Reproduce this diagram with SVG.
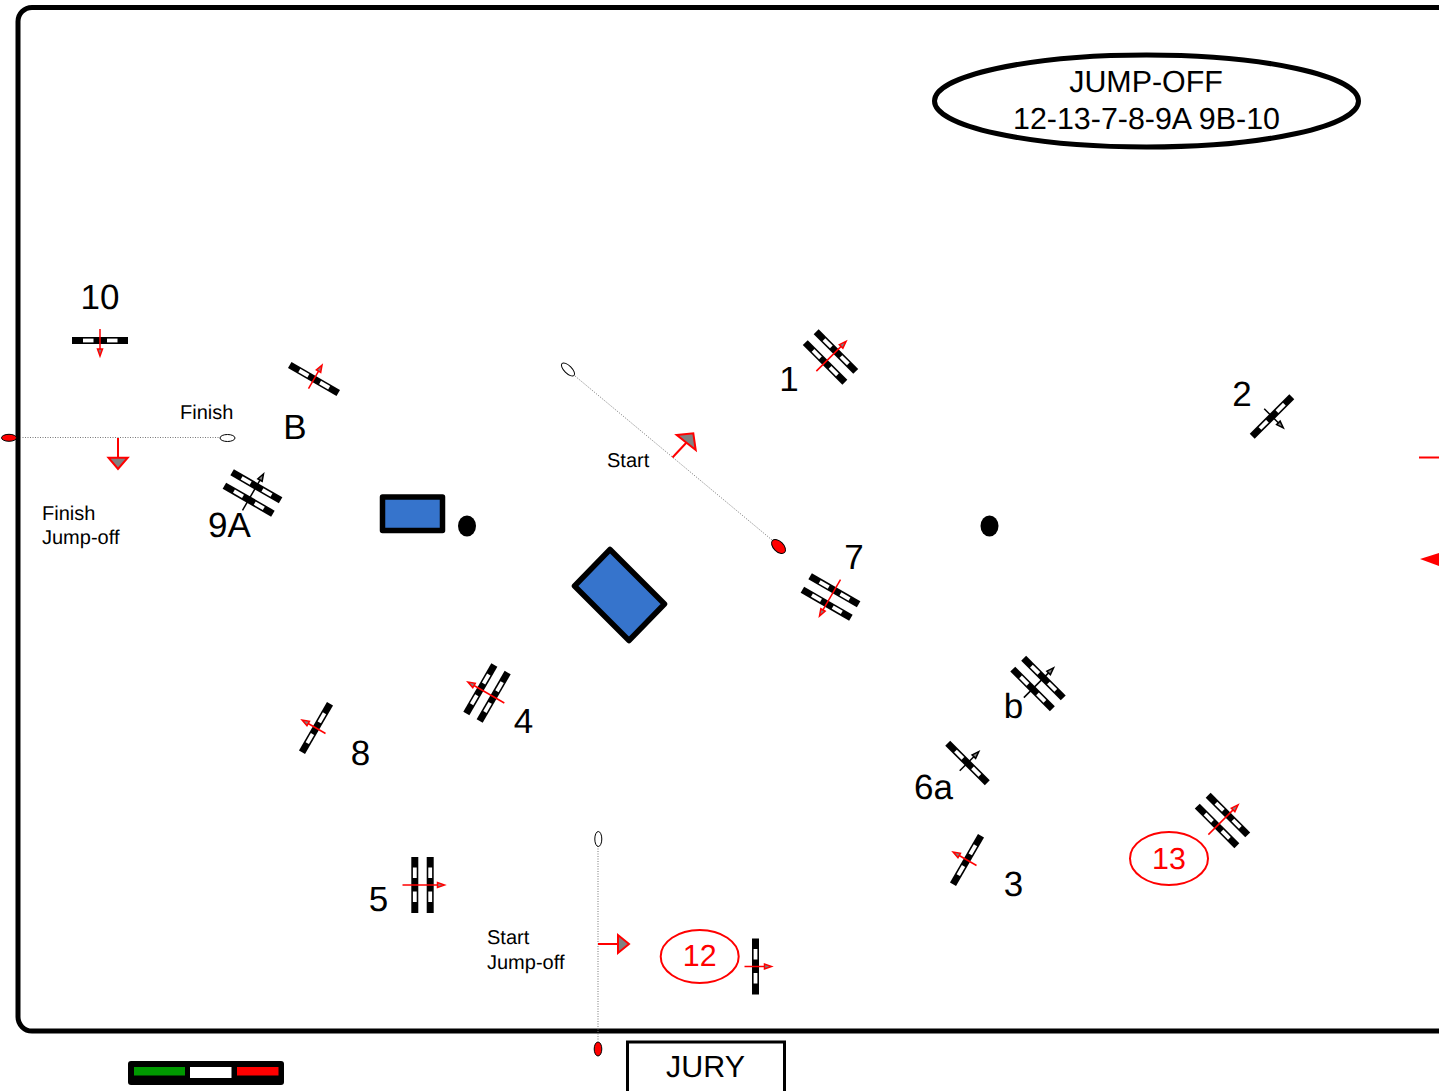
<svg xmlns="http://www.w3.org/2000/svg" width="1439" height="1091" viewBox="0 0 1439 1091">
<style>
text{font-family:"Liberation Sans",Arial,sans-serif;fill:#000;text-rendering:geometricPrecision}
.n{font-size:35px;text-anchor:middle}
.s{font-size:20px}
.o{font-size:30.400px;text-anchor:middle}
.rt{fill:#f00}
.r{color:#f00}
.k{color:#000}
.gate{fill:#fff;stroke:#000;stroke-width:1}
.gate.red{fill:#f00}
.dot{stroke:#777;stroke-width:1;stroke-dasharray:1 1.500;fill:none}
.ga{stroke:#f00;stroke-width:2;fill:none}
.gh{stroke:#f00;stroke-width:2;fill:#808080;stroke-linejoin:miter}
.blue{fill:#3674cc;stroke:#000;stroke-width:5.500;stroke-linejoin:round}
.tag{fill:#fff;stroke:#f00;stroke-width:2}
</style>
<defs>
<g id="bar"><rect x="-28" y="-3.500" width="56" height="7" fill="#000"/><rect x="-17" y="-1.900" width="10.500" height="3.800" fill="#fff"/><rect x="7" y="-1.900" width="10.500" height="3.800" fill="#fff"/></g>
<g id="a1"><path d="M0-11V10" stroke="currentColor" stroke-width="1.500" fill="none"/><path d="M-2.500 9H2.500L0 16Z" stroke="currentColor" stroke-width="1.500" fill="#808080"/></g>
<g id="a2"><path d="M0-20V15" stroke="currentColor" stroke-width="1.500" fill="none"/><path d="M-2.500 15H2.500L0 22Z" stroke="currentColor" stroke-width="1.500" fill="#808080"/></g>
<g id="dbl"><use href="#bar" y="-7.700"/><use href="#bar" y="7.700"/></g>
</defs>
<g id="frame"><rect x="18" y="7.500" width="1500" height="1023.500" rx="14" fill="#fff" stroke="#000" stroke-width="5"/></g>
<g id="connectors">
<path class="dot" d="M575 376L772 540"/>
<path class="dot" d="M20 437.500H220"/>
<path class="dot" d="M598 846V1041"/>
<path class="ga" d="M672.500 457.500L687 442"/><path class="gh" d="M676.700 435L693.300 433.300L695.700 450Z"/>
<path class="ga" d="M118 438V458"/><path class="gh" d="M108.500 457.700H127.700L118 469Z"/>
<path class="ga" d="M598 944H618"/><path class="gh" d="M618 935V953L629 944Z"/>
<path class="ga" d="M1419 457.500H1439"/>
<path d="M1420 559L1439 553V566Z" fill="#f00"/>
</g>
<g id="jumpoff"><ellipse cx="1146.500" cy="101" rx="212" ry="46" fill="#fff" stroke="#000" stroke-width="5"/><text class="o" x="1146" y="91.500">JUMP-OFF</text><text class="o" x="1146.500" y="129">12-13-7-8-9A 9B-10</text></g>
<g id="gate-start"><ellipse class="gate" cx="568" cy="369.500" rx="8.500" ry="3.800" transform="rotate(45 568 369.500)"/><ellipse class="gate red" cx="778.500" cy="546.500" rx="8.500" ry="5" transform="rotate(45 778.500 546.500)"/><text class="s" x="607" y="467">Start</text></g>
<g id="gate-finish"><ellipse class="gate red" cx="9" cy="437.800" rx="7.500" ry="3.500"/><ellipse class="gate" cx="227.500" cy="438" rx="7.500" ry="3.500"/><text class="s" x="180" y="419">Finish</text><text class="s" x="42" y="520">Finish</text><text class="s" x="42" y="544">Jump-off</text></g>
<g id="gate-jumpoff"><ellipse class="gate" cx="598.300" cy="839" rx="3.500" ry="7.500"/><ellipse class="gate red" cx="598" cy="1049" rx="3.800" ry="7"/><text class="s" x="487" y="944">Start</text><text class="s" x="487" y="969">Jump-off</text></g>
<g id="arena-a"><rect class="blue" x="382.500" y="497" width="60" height="33.500"/></g>
<g id="arena-b"><path class="blue" d="M610 549.500L664.500 604L629 640.500L574.500 586Z"/></g>
<g id="post-1"><ellipse cx="467" cy="526" rx="9" ry="10.500"/></g>
<g id="post-2"><ellipse cx="989.500" cy="526" rx="9" ry="10.500"/></g>
<g id="jump-10"><use href="#bar" transform="translate(100 340.500)"/><use class="r" href="#a1" transform="translate(100 340)"/><text class="n" x="100" y="308.500">10</text></g>
<g id="jump-B"><use href="#bar" transform="translate(314 379) rotate(30)"/><use class="r" href="#a1" transform="translate(314 379) rotate(210)"/><text class="n" x="295" y="438.500">B</text></g>
<g id="jump-9A"><use href="#dbl" transform="translate(252.500 493) rotate(30)"/><use class="k" href="#a2" transform="translate(252.500 493) rotate(210)"/><text class="n" x="229.500" y="537">9A</text></g>
<g id="jump-1"><use href="#dbl" transform="translate(830.500 357) rotate(45)"/><use class="r" href="#a2" transform="translate(830.500 357) rotate(225)"/><text class="n" x="789" y="390.500">1</text></g>
<g id="jump-2"><use href="#bar" transform="translate(1272 416.500) rotate(-45)"/><use class="k" href="#a1" transform="translate(1272 416.500) rotate(-45)"/><text class="n" x="1242" y="405.500">2</text></g>
<g id="jump-7"><use href="#dbl" transform="translate(830.500 597) rotate(30)"/><use class="r" href="#a2" transform="translate(830.500 597) rotate(30)"/><text class="n" x="854" y="568.500">7</text></g>
<g id="jump-b"><use href="#dbl" transform="translate(1038 683.500) rotate(45)"/><use class="k" href="#a2" transform="translate(1038 683.500) rotate(225)"/><text class="n" x="1013.500" y="718">b</text></g>
<g id="jump-6a"><use href="#bar" transform="translate(967.500 763) rotate(45)"/><use class="k" href="#a1" transform="translate(967.500 763) rotate(225)"/><text class="n" x="933.500" y="798.500">6a</text></g>
<g id="jump-3"><use href="#bar" transform="translate(967 860) rotate(120)"/><use class="r" href="#a1" transform="translate(967 860) rotate(120)"/><text class="n" x="1013.500" y="896">3</text></g>
<g id="jump-13"><use href="#dbl" transform="translate(1222.500 820.500) rotate(45)"/><use class="r" href="#a2" transform="translate(1222.500 820.500) rotate(225)"/><ellipse class="tag" cx="1169" cy="858.500" rx="39" ry="26.500"/><text class="o rt" x="1169" y="868.500">13</text></g>
<g id="jump-8"><use href="#bar" transform="translate(316 728) rotate(120)"/><use class="r" href="#a1" transform="translate(316 728) rotate(120)"/><text class="n" x="360.500" y="765">8</text></g>
<g id="jump-4"><use href="#dbl" transform="translate(487 693) rotate(120)"/><use class="r" href="#a2" transform="translate(487 693) rotate(120)"/><text class="n" x="523.500" y="733">4</text></g>
<g id="jump-5"><use href="#dbl" transform="translate(422.500 885) rotate(-90)"/><use class="r" href="#a2" transform="translate(422.500 885) rotate(-90)"/><text class="n" x="378.500" y="910.500">5</text></g>
<g id="jump-12"><use href="#bar" transform="translate(755.500 966.500) rotate(-90)"/><use class="r" href="#a1" transform="translate(755.500 966.500) rotate(-90)"/><ellipse class="tag" cx="699.700" cy="956.500" rx="39" ry="26.500"/><text class="o rt" x="699.700" y="966">12</text></g>
<g id="jury"><rect x="627.500" y="1042" width="157" height="70" fill="#fff" stroke="#000" stroke-width="3"/><text class="o" x="705.500" y="1077">JURY</text></g>
<g id="legend"><rect x="128" y="1061" width="156" height="24" rx="3" fill="#000"/><rect x="134" y="1067" width="51" height="8.500" fill="#090"/><rect x="190" y="1067" width="41.500" height="11" fill="#fff"/><rect x="237" y="1067" width="41.500" height="8.500" fill="#f00"/></g>
</svg>
